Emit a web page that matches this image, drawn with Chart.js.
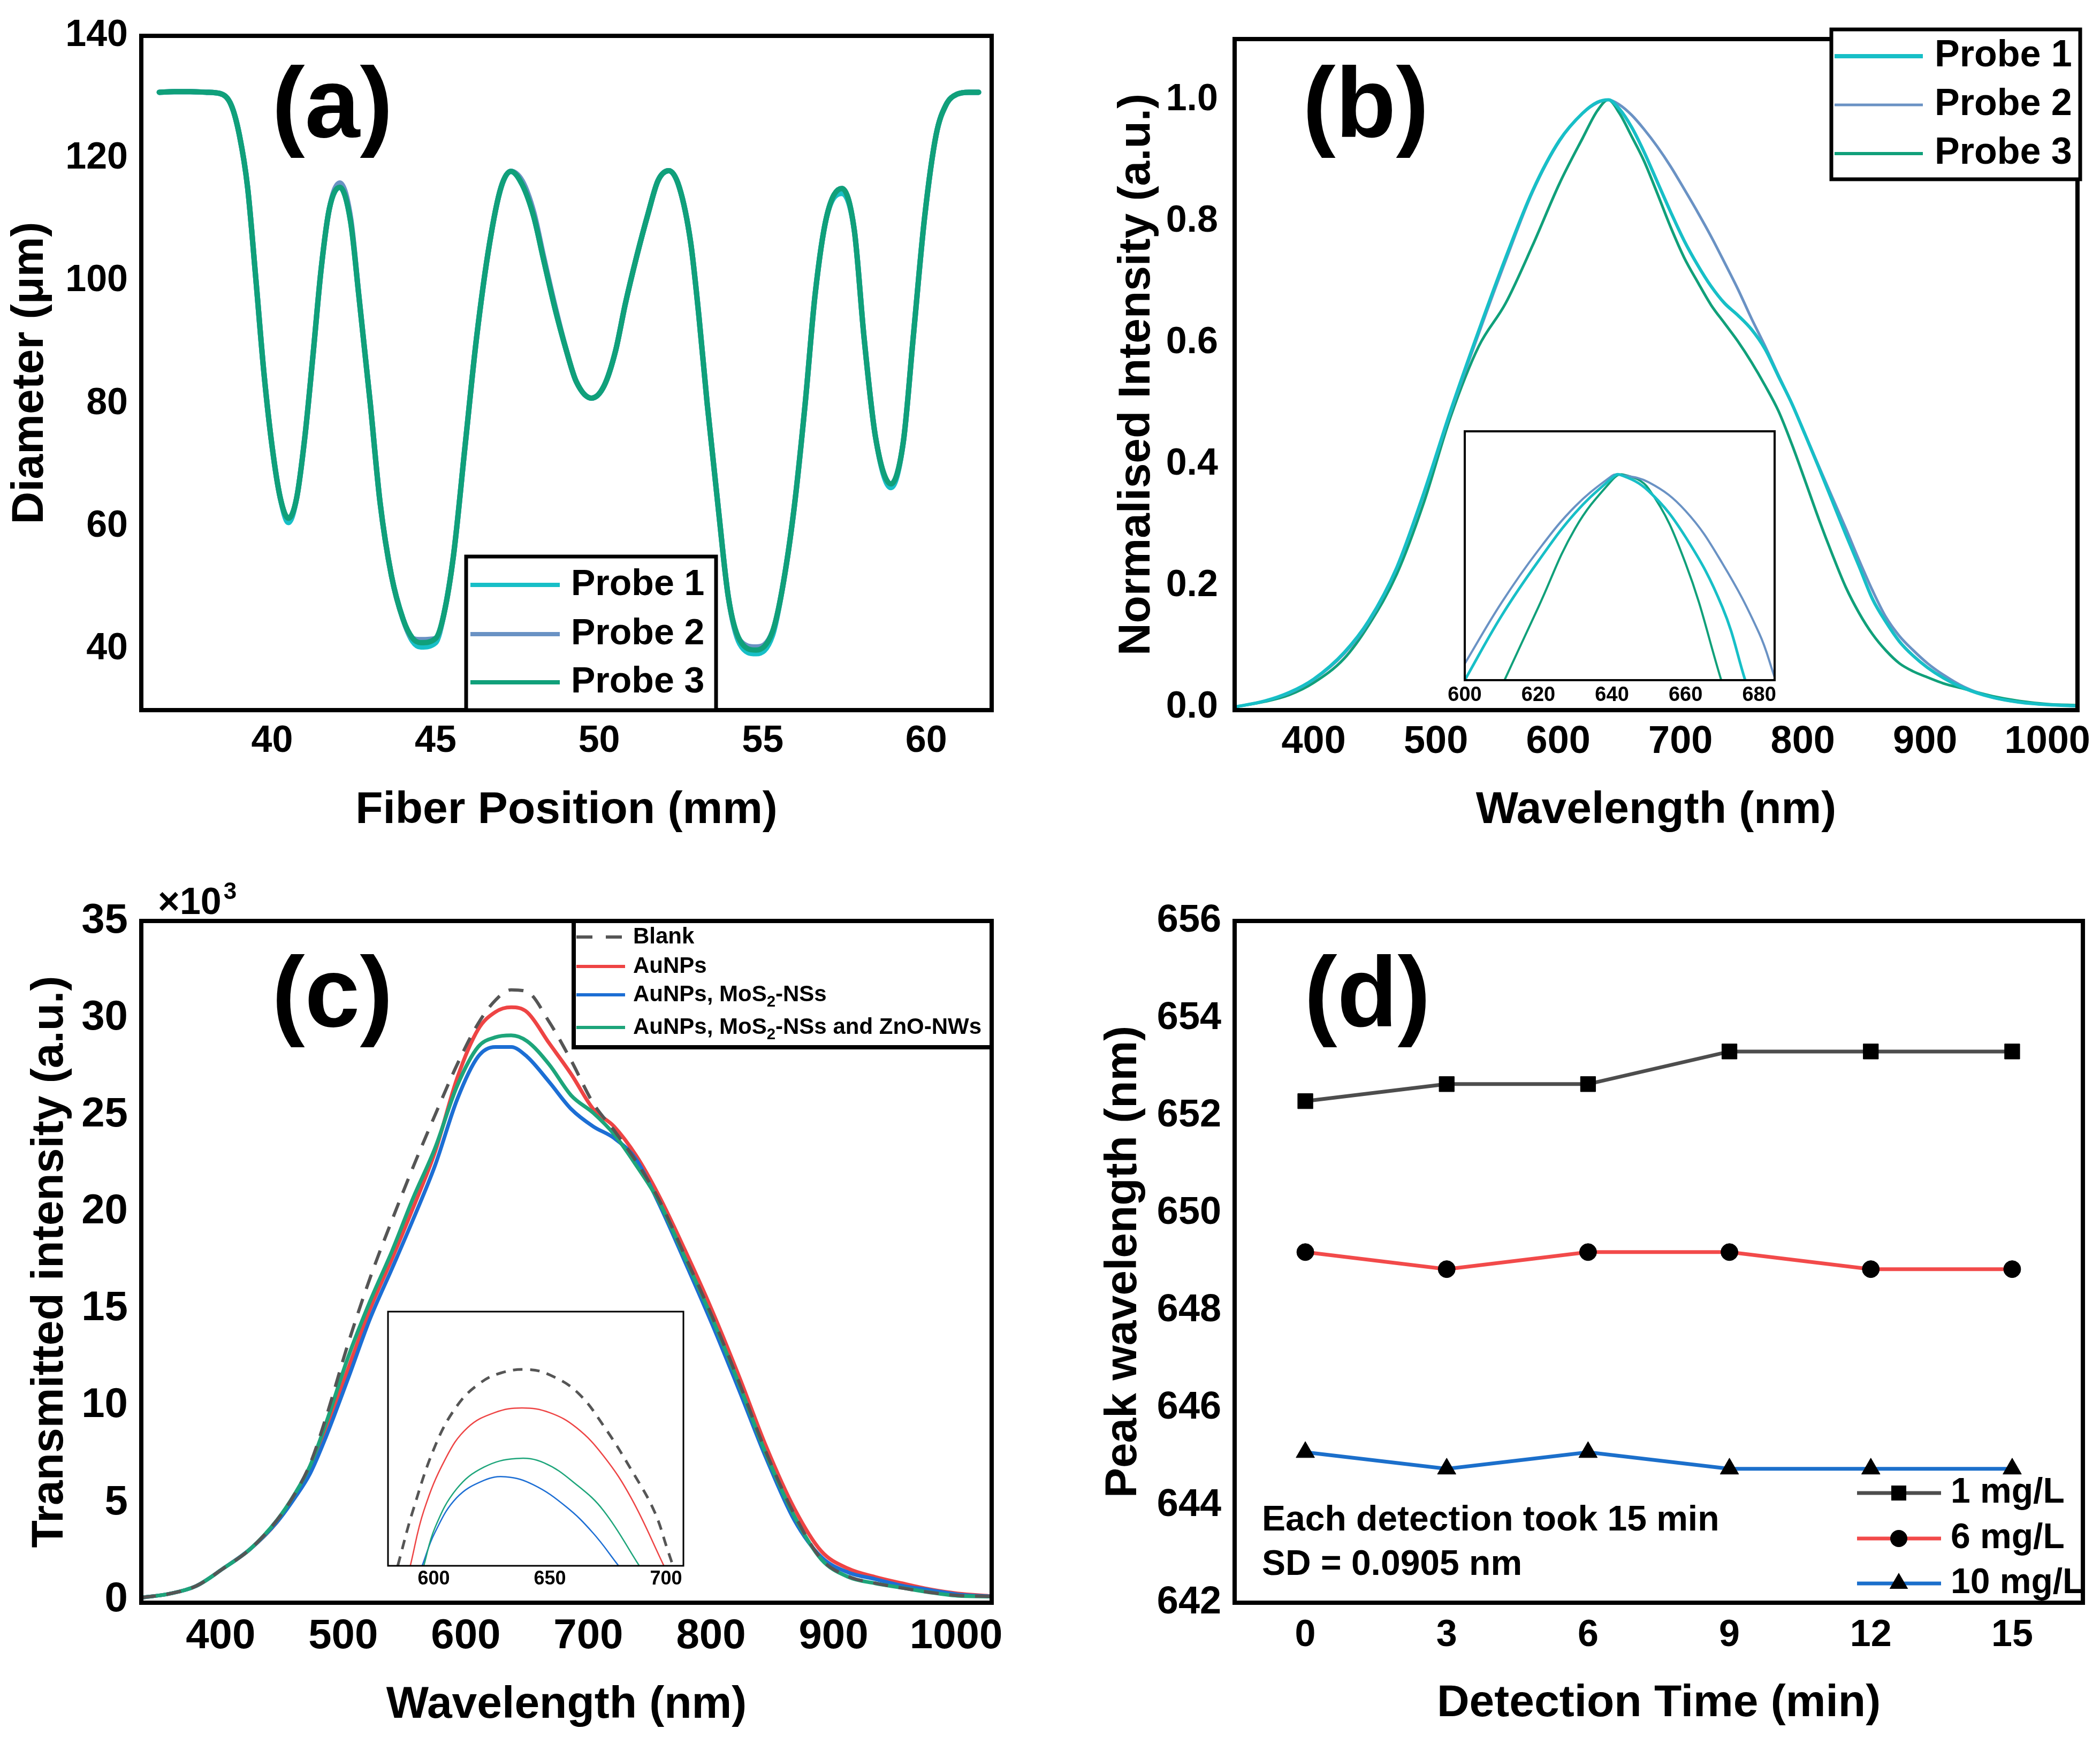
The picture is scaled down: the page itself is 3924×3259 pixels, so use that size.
<!DOCTYPE html>
<html><head><meta charset="utf-8">
<script src="https://cdn.jsdelivr.net/npm/chart.js@4.4.1/dist/chart.umd.min.js"></script>
<style>
html,body{margin:0;padding:0;background:#fff;}
#wrap{position:relative;width:3924px;height:3259px;overflow:hidden;background:#fff;}
canvas{position:absolute;}
</style></head><body><div id="wrap">
<canvas id="ca" width="1962" height="1630" style="left:0;top:0"></canvas>
<canvas id="cb" width="1962" height="1630" style="left:1962px;top:0"></canvas>
<canvas id="cc" width="1962" height="1629" style="left:0;top:1630px"></canvas>
<canvas id="cd" width="1962" height="1629" style="left:1962px;top:1630px"></canvas>
<canvas id="ib" width="680" height="560" style="left:2690px;top:780px"></canvas>
<canvas id="ic" width="640" height="580" style="left:680px;top:2420px"></canvas>
</div>
<script>
// ---------------- DATA ----------------
// (a) fibre diameter profile
const posA = [36.55,37.0,37.5,38.0,38.4,38.75,39.0,39.25,39.5,39.75,40.0,40.25,40.5,40.75,41.0,41.25,41.5,41.75,42.07,42.4,42.65,43.0,43.3,43.65,44.0,44.3,44.55,45.0,45.25,45.55,45.9,46.25,46.65,47.0,47.3,47.65,48.0,48.3,48.65,49.0,49.3,49.77,50.15,50.5,50.8,51.15,51.5,51.8,52.13,52.45,52.8,53.05,53.3,53.65,53.95,54.3,54.8,55.3,55.6,55.95,56.3,56.6,56.95,57.42,57.8,58.1,58.45,58.92,59.3,59.6,59.95,60.3,60.6,60.95,61.3,61.6];
const probe1A = [130.8,130.9,130.9,130.8,130.6,128.7,123.8,115.3,100.5,85.0,73.0,64.6,60.6,64.6,74.5,87.9,102.0,111.8,115.3,109.7,97.7,80.1,63.9,51.9,44.9,41.2,40.3,41.0,45.6,55.4,73.1,90.7,106.2,115.3,117.9,115.7,110.5,103.5,95.5,88.6,83.6,80.9,82.9,88.6,96.3,104.1,111.1,116.4,118.0,115.3,106.2,94.2,80.1,62.5,48.4,40.8,39.2,42.2,49.8,62.5,80.1,97.7,110.4,114.3,108.3,90.7,74.5,66.3,73.8,90.7,110.4,123.8,128.7,130.5,130.8,130.8];
const probe2A = [130.8,130.9,130.9,130.8,130.6,128.7,123.8,115.3,100.5,85.0,73.0,64.6,61.3,64.6,74.5,87.9,102.0,111.8,116.0,110.3,97.7,80.1,63.9,51.9,44.9,41.7,41.5,41.7,45.6,55.4,73.1,90.7,106.2,115.3,117.9,116.3,111.2,104.0,95.9,88.6,83.6,80.9,82.9,88.6,96.3,104.1,111.1,116.4,118.0,115.3,106.2,94.2,80.1,62.5,48.4,41.4,40.3,42.8,49.8,62.5,80.1,97.7,110.4,115.1,108.3,90.7,74.5,66.9,73.8,90.7,110.4,123.8,128.7,130.5,130.8,130.8];
const probe3A = [130.8,130.9,130.9,130.8,130.6,128.7,123.8,115.3,100.5,85.0,73.0,64.6,61.3,64.6,74.5,87.9,102.0,111.8,115.3,109.7,97.7,80.1,63.9,51.9,44.9,41.7,41.0,41.7,45.6,55.4,73.1,90.7,106.2,115.3,117.9,115.7,110.5,103.5,95.5,88.6,83.6,80.9,82.9,88.6,96.3,104.1,111.1,116.4,118.0,115.3,106.2,94.2,80.1,62.5,48.4,41.4,39.8,42.8,49.8,62.5,80.1,97.7,110.4,115.1,108.3,90.7,74.5,66.9,73.8,90.7,110.4,123.8,128.7,130.5,130.8,130.8];
const xTicksA = [40,45,50,55,60];
const yTicksA = [40,60,80,100,120,140];

// (b) normalised spectra
const wlB = [335,360,380,400,425,445,468,490,512,535,557,579,601,620,632,641,650,660,670,681,692,703,714,725,736,747,758,769,780,791,802,813,824,835,846,857,868,879,890,902,915,932,955,977,1000,1025];
const probe1B = [0.0,0.01,0.024,0.046,0.09,0.142,0.23,0.352,0.488,0.62,0.74,0.85,0.933,0.978,0.996,1.0,0.985,0.955,0.915,0.865,0.815,0.768,0.728,0.693,0.665,0.645,0.622,0.59,0.545,0.5,0.448,0.395,0.34,0.285,0.232,0.178,0.14,0.108,0.085,0.065,0.048,0.031,0.016,0.008,0.004,0.002];
const probe2B = [0.0,0.01,0.023,0.045,0.088,0.14,0.229,0.35,0.485,0.615,0.735,0.848,0.932,0.978,0.995,1.0,0.992,0.975,0.952,0.923,0.89,0.853,0.815,0.775,0.732,0.688,0.64,0.595,0.547,0.5,0.449,0.397,0.346,0.295,0.242,0.192,0.148,0.117,0.094,0.072,0.053,0.033,0.016,0.008,0.004,0.002];
const probe3B = [0.0,0.009,0.02,0.04,0.08,0.135,0.219,0.336,0.478,0.594,0.665,0.76,0.862,0.937,0.982,1.0,0.978,0.94,0.9,0.846,0.79,0.74,0.7,0.662,0.632,0.602,0.568,0.53,0.488,0.433,0.372,0.31,0.252,0.198,0.155,0.12,0.093,0.072,0.059,0.049,0.039,0.03,0.018,0.01,0.005,0.003];
const xTicksB = [400,500,600,700,800,900,1000];
const yTicksB = [0,0.2,0.4,0.6,0.8,1.0];
// (b) inset (peak region, relative units)
const insB1x = [600,610,620,630,640,642,650,660,670,676.2];
const insB1y = [0,0.313,0.579,0.813,0.983,1.0,0.919,0.696,0.355,0];
const insB2x = [600,610,620,630,640,641.5,650,660,670,680,684.2];
const insB2y = [0.08,0.377,0.632,0.845,0.994,1.0,0.962,0.823,0.568,0.228,0.015];
const insB3x = [610.8,620,630,640,643,650,660,669.7];
const insB3y = [0,0.355,0.738,0.972,1.0,0.93,0.568,0];
const xTicksInsB = [600,620,640,660,680];

// (c) transmitted spectra (x10^3)
const wlC = [335,358,380,402,424,446,460,473,486,504,522,540,557,575,593,610,624,637,650,668,686,704,721,739,757,779,801,823,845,868,890,912,934,956,978,1001,1029];
const blankC = [0.1,0.3,0.7,1.6,2.6,4.1,5.4,7.0,9.4,13.2,16.6,19.6,22.3,25.0,27.6,29.7,30.9,31.45,31.35,29.8,27.8,25.6,24.2,22.6,20.7,17.7,14.6,11.2,7.6,4.4,2.1,1.2,0.85,0.6,0.38,0.22,0.16];
const aunpC = [0.1,0.3,0.7,1.6,2.6,4.0,5.3,6.7,8.7,11.9,15.0,17.6,20.2,23.1,26.9,29.4,30.3,30.55,30.3,28.7,27.1,25.3,24.4,22.9,20.9,18.0,14.9,11.5,7.9,4.7,2.5,1.6,1.17,0.84,0.54,0.32,0.18];
const mosC = [0.1,0.3,0.7,1.6,2.6,4.0,5.2,6.5,8.4,11.4,14.5,17.1,19.6,22.4,25.8,28.0,28.5,28.5,28.0,26.7,25.3,24.4,23.8,22.7,20.5,17.4,14.2,10.8,7.3,4.1,2.2,1.4,1.06,0.72,0.5,0.27,0.16];
const znoC = [0.1,0.3,0.7,1.6,2.6,4.1,5.4,6.9,9.1,12.5,15.4,18.0,20.7,23.3,26.5,28.5,29.0,29.1,28.8,27.6,26.0,25.1,24.0,22.4,20.6,17.6,14.5,11.1,7.5,4.3,2.08,1.17,0.84,0.61,0.38,0.2,0.16];
const xTicksC = [400,500,600,700,800,900,1000];
const yTicksC = [0,5,10,15,20,25,30,35];
// (c) inset (peak region, relative units)
const insCblankX = [584.5,591,600.7,610,619.5,629,640.8,650.2,662,673.7,685.5,694.9,700.8,703];
const insCblankY = [0,21.6,47.4,62.9,71.6,75.9,77.2,75,68.1,54.3,37.1,21.6,6,0];
const insCredX = [589.9,595.7,605.1,614.5,626.3,638,649.8,661.5,673.2,685,699.1];
const insCredY = [0,21.6,42.2,54.3,60.3,62.1,60.3,54.3,43.1,26.7,0];
const insCgreenX = [595.7,600.4,609.8,621.6,635.7,647.5,661.5,673.2,688.5];
const insCgreenY = [0,14.7,30.2,38.8,42.2,40.5,31.9,21.6,0];
const insCblueX = [595,600.4,609.8,621.6,631,642.8,656.9,668.6,679.6];
const insCblueY = [0,12.9,26.7,33.6,35,31.9,23.3,12.9,0];
const xTicksInsC = [600,650,700];

// (d) peak wavelength vs time
const timeD = [0,3,6,9,12,15];
const mg1D = [652.3,652.65,652.65,653.32,653.32,653.32];
const mg6D = [649.2,648.85,649.2,649.2,648.85,648.85];
const mg10D = [645.09,644.75,645.09,644.75,644.75,644.75];
const xTicksD = [0,3,6,9,12,15];
const yTicksD = [642,644,646,648,650,652,654,656];

// ---------------- HELPERS ----------------
const FONT = "'Liberation Sans', Arial, Helvetica, sans-serif";
Chart.defaults.font.family = FONT;
Chart.defaults.font.weight = 'bold';
Chart.defaults.color = '#000';

const C1 = '#17BFC7', C2 = '#6A92C4', C3 = '#10A07A';

function pts(xs, ys){ return xs.map((x,i)=>({x:x, y:ys[i]})); }

function xScale(o){
  return { type:'linear', position:'bottom', min:o.min, max:o.max,
    afterBuildTicks: s => { s.ticks = o.ticks.map(v=>({value:v})); },
    afterFit: s => { s.height = o.h; },
    grid:{display:false, drawTicks:false}, border:{display:false},
    ticks:{ font:{size:o.fs, weight:'bold'}, color:'#000', padding:o.pad, maxRotation:0, minRotation:0, autoSkip:false,
      callback: o.fmt || (v=>String(v)) },
    title: o.title ? {display:true, text:o.title, color:'#000', font:{size:84, weight:'bold', lineHeight:1}, padding:0} : {display:false}
  };
}
function yScale(o){
  if (o.hidden) return { type:'linear', display:false, min:o.min, max:o.max };
  return { type:'linear', position:'left', min:o.min, max:o.max,
    afterBuildTicks: s => { s.ticks = o.ticks.map(v=>({value:v})); },
    afterFit: s => { s.width = o.w; },
    grid:{display:false, drawTicks:false}, border:{display:false},
    ticks:{ font:{size:o.fs, weight:'bold'}, color:'#000', padding:o.pad, autoSkip:false,
      callback: o.fmt || (v=>String(v)) },
    title: o.title ? {display:true, text:o.title, color:'#000', font:{size:84, weight:'bold', lineHeight:1}, padding:0} : {display:false}
  };
}
function line(label, data, color, width, extra){
  return Object.assign({ label, data, borderColor:color, backgroundColor:color, borderWidth:width,
    pointRadius:0, fill:false, cubicInterpolationMode:'monotone', clip:0, borderJoinStyle:'round', borderCapStyle:'round' }, extra||{});
}
function txt(ctx, s, x, y, size, align, base){
  ctx.save();
  ctx.font = 'bold ' + size + 'px ' + FONT;
  ctx.fillStyle = '#000';
  ctx.textAlign = align || 'left';
  ctx.textBaseline = base || 'middle';
  ctx.fillText(s, x, y);
  const w = ctx.measureText(s).width;
  ctx.restore();
  return w;
}
function rich(ctx, parts, x, y, size){
  ctx.save();
  let cx = x;
  ctx.fillStyle = '#000'; ctx.textAlign = 'left'; ctx.textBaseline = 'middle';
  for (const p of parts){
    const sz = p.sub ? size*0.7 : size;
    ctx.font = 'bold ' + sz + 'px ' + FONT;
    ctx.fillText(p.t, cx, y + (p.sub ? size*0.32 : 0));
    cx += ctx.measureText(p.t).width;
  }
  ctx.restore();
}
function box(ctx, x, y, w, h, lw){
  ctx.save(); ctx.fillStyle = '#fff'; ctx.fillRect(x, y, w, h);
  ctx.strokeStyle = '#000'; ctx.lineWidth = lw; ctx.strokeRect(x, y, w, h); ctx.restore();
}
function seg(ctx, x1, x2, y, color, lw, dash){
  ctx.save(); ctx.strokeStyle = color; ctx.lineWidth = lw; ctx.lineCap = 'butt';
  if (dash) ctx.setLineDash(dash);
  ctx.beginPath(); ctx.moveTo(x1, y); ctx.lineTo(x2, y); ctx.stroke(); ctx.restore();
}
function marker(ctx, style, x, y){
  ctx.save(); ctx.fillStyle = '#000'; ctx.beginPath();
  if (style === 'rect') { ctx.rect(x-14, y-14, 28, 28); }
  else if (style === 'circle') { ctx.arc(x, y, 16, 0, Math.PI*2); }
  else { const r = 20; ctx.moveTo(x, y-r); ctx.lineTo(x+r*0.866, y+r*0.5); ctx.lineTo(x-r*0.866, y+r*0.5); ctx.closePath(); }
  ctx.fill(); ctx.restore();
}
function decor(frameW, fn, whiteBg){
  return { id:'decor',
    beforeDatasetsDraw(c){ if (whiteBg){ const a=c.chartArea; c.ctx.save(); c.ctx.fillStyle='#fff'; c.ctx.fillRect(a.left,a.top,a.right-a.left,a.bottom-a.top); c.ctx.restore(); } },
    afterDraw(c){
      const a = c.chartArea, ctx = c.ctx;
      ctx.save(); ctx.strokeStyle = '#000'; ctx.lineWidth = frameW;
      ctx.strokeRect(a.left, a.top, a.right-a.left, a.bottom-a.top); ctx.restore();
      if (fn) fn(ctx, c);
    } };
}
function make(id, datasets, scales, padding, plugin){
  return new Chart(document.getElementById(id), {
    type:'line', data:{datasets},
    options:{ responsive:false, animation:false, devicePixelRatio:1, events:[],
      layout:{padding},
      plugins:{ legend:{display:false}, tooltip:{enabled:false}, title:{display:false} },
      scales },
    plugins:[plugin]
  });
}

// ---------------- (a) ----------------
make('ca', [
  line('Probe 1', pts(posA, probe1A), C1, 10, {order:2}),
  line('Probe 2', pts(posA, probe2A), C2, 10, {order:1}),
  line('Probe 3', pts(posA, probe3A), C3, 10, {order:0})
], {
  x: xScale({min:36, max:62, ticks:xTicksA, h:230, fs:70, pad:17, title:'Fiber Position (mm)'}),
  y: yScale({min:30, max:140, ticks:yTicksA, w:249, fs:70, pad:25, title:'Diameter (\u03bcm)'})
}, {left:15, top:50, right:109, bottom:73}, decor(8, ctx => {
  txt(ctx, '(a)', 508, 256, 185, 'left', 'alphabetic');
  box(ctx, 871, 1040, 467, 287, 7);
  const rows = [[1093,'Probe 1',C1],[1185,'Probe 2',C2],[1275,'Probe 3',C3]];
  rows.forEach(r => { seg(ctx, 879, 1046, r[0], r[2], 8); txt(ctx, r[1], 1067, r[0], 68); });
}));

// ---------------- (b) ----------------
make('cb', [
  line('Probe 1', pts(wlB, probe1B), C1, 6, {order:0}),
  line('Probe 2', pts(wlB, probe2B), C2, 5, {order:1}),
  line('Probe 3', pts(wlB, probe3B), C3, 5, {order:2})
], {
  x: xScale({min:335.4, max:1024.6, ticks:xTicksB, h:230, fs:72, pad:17, title:'Wavelength (nm)'}),
  y: yScale({min:-0.005, max:1.1, ticks:yTicksB, w:224, fs:70, pad:31, title:'Normalised Intensity (a.u.)', fmt:v=>v.toFixed(1)})
}, {left:121, top:50, right:34, bottom:73}, decor(8, ctx => {
  txt(ctx, '(b)', 472, 256, 185, 'left', 'alphabetic');
  box(ctx, 1460, 55, 465, 280, 7);
  const rows = [[105,'Probe 1',C1,8],[196,'Probe 2',C2,5],[287,'Probe 3',C3,6]];
  rows.forEach(r => { seg(ctx, 1466, 1631, r[0], r[2], r[3]); txt(ctx, r[1], 1653, r[0], 70); });
}));

make('ib', [
  line('Probe 1', pts(insB1x, insB1y), C1, 5, {order:0, cubicInterpolationMode:'default', tension:0.4}),
  line('Probe 2', pts(insB2x, insB2y), C2, 4, {order:1, cubicInterpolationMode:'default', tension:0.4}),
  line('Probe 3', pts(insB3x, insB3y), C3, 4, {order:2, cubicInterpolationMode:'default', tension:0.4})
], {
  x: xScale({min:600, max:684.2, ticks:xTicksInsB, h:59, fs:38, pad:6}),
  y: yScale({hidden:true, min:0, max:1.21})
}, {left:47, top:26, right:54, bottom:10}, decor(4, null, true));

// ---------------- (c) ----------------
const BLK = '#555555', RED = '#EE4444', BLU = '#1C6ED4', GRN = '#1DA57A';
make('cc', [
  line('Blank', pts(wlC, blankC), BLK, 6, {order:0, borderDash:[28,20], borderCapStyle:'butt'}),
  line('AuNPs', pts(wlC, aunpC), RED, 7, {order:3}),
  line('AuNPs, MoS2-NSs', pts(wlC, mosC), BLU, 7, {order:2}),
  line('AuNPs, MoS2-NSs and ZnO-NWs', pts(wlC, znoC), GRN, 7, {order:1})
], {
  x: xScale({min:335.3, max:1029, ticks:xTicksC, h:234, fs:78, pad:17, title:'Wavelength (nm)'}),
  y: yScale({min:-0.16, max:35, ticks:yTicksC, w:212, fs:78, pad:25, title:'Transmitted intensity (a.u.)'})
}, {left:52, top:91, right:109, bottom:30}, decor(8, ctx => {
  txt(ctx, '(c)', 508, 288, 185, 'left', 'alphabetic');
  const w = txt(ctx, '\u00d710', 295, 78, 70, 'left', 'alphabetic');
  txt(ctx, '3', 295 + w + 4, 50, 44, 'left', 'alphabetic');
  box(ctx, 1072, 91, 781, 236, 8);
  seg(ctx, 1077, 1168, 121, BLK, 6, [30,25]);
  txt(ctx, 'Blank', 1183, 121, 42);
  seg(ctx, 1077, 1168, 176, RED, 6); txt(ctx, 'AuNPs', 1183, 176, 42);
  seg(ctx, 1077, 1168, 229, BLU, 6); rich(ctx, [{t:'AuNPs, MoS'},{t:'2',sub:true},{t:'-NSs'}], 1183, 229, 42);
  seg(ctx, 1077, 1168, 290, GRN, 6); rich(ctx, [{t:'AuNPs, MoS'},{t:'2',sub:true},{t:'-NSs and ZnO-NWs'}], 1183, 290, 42);
}));

make('ic', [
  line('Blank', pts(insCblankX, insCblankY), BLK, 5, {order:0, borderDash:[18,14], borderCapStyle:'butt', cubicInterpolationMode:'default', tension:0.4}),
  line('AuNPs', pts(insCredX, insCredY), RED, 2.5, {order:1, cubicInterpolationMode:'default', tension:0.4}),
  line('AuNPs, MoS2-NSs', pts(insCblueX, insCblueY), BLU, 2.5, {order:3, cubicInterpolationMode:'default', tension:0.4}),
  line('AuNPs, MoS2-NSs and ZnO-NWs', pts(insCgreenX, insCgreenY), GRN, 2.5, {order:2, cubicInterpolationMode:'default', tension:0.4})
], {
  x: xScale({min:580.3, max:707.5, ticks:xTicksInsC, h:64, fs:36, pad:3}),
  y: yScale({hidden:true, min:0, max:100})
}, {left:45, top:31, right:43, bottom:10}, decor(3, null, true));

// ---------------- (d) ----------------
const DG = '#4D4D4D', DR = '#F24A4A', DB = '#1B6FCB';
const dset = (label, ys, color, style, r) => ({ label, data: pts(timeD, ys), borderColor:color, borderWidth:7, tension:0, fill:false, clip:0,
  pointStyle:style, pointRadius:r, pointBackgroundColor:'#000', pointBorderColor:'#000', pointBorderWidth:1 });
make('cd', [
  dset('1 mg/L', mg1D, DG, 'rect', 20),
  dset('6 mg/L', mg6D, DR, 'circle', 16),
  dset('10 mg/L', mg10D, DB, 'triangle', 20)
], {
  x: xScale({min:-1.5, max:16.5, ticks:xTicksD, h:231, fs:70, pad:20, title:'Detection Time (min)'}),
  y: yScale({min:642, max:656, ticks:yTicksD, w:249, fs:72, pad:25, title:'Peak wavelength (nm)'})
}, {left:96, top:91, right:32, bottom:33}, decor(8, ctx => {
  txt(ctx, '(d)', 475, 288, 185, 'left', 'alphabetic');
  txt(ctx, 'Each detection took 15 min', 396, 1212, 66);
  txt(ctx, 'SD = 0.0905 nm', 396, 1295, 66);
  const rows = [[1160,'1 mg/L',DG,'rect'],[1245,'6 mg/L',DR,'circle'],[1329,'10 mg/L',DB,'tri']];
  rows.forEach(r => { seg(ctx, 1508, 1665, r[0], r[2], 7); marker(ctx, r[3], 1586, r[0]); txt(ctx, r[1], 1683, r[0], 66); });
}));
</script></body></html>
